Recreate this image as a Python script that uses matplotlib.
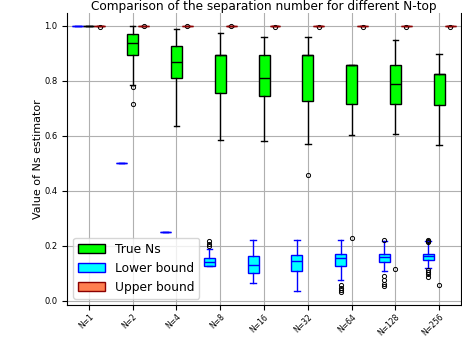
import matplotlib
matplotlib.use('Agg')
import matplotlib.pyplot as plt
from matplotlib.patches import Patch

labels = ['N=1', 'N=2', 'N=4', 'N=8', 'N=16', 'N=32', 'N=64', 'N=128', 'N=256']

# True Ns
true_lo = [1.0, 0.785, 0.634, 0.584, 0.580, 0.570, 0.601, 0.606, 0.566]
true_q1 = [1.0, 0.893, 0.810, 0.754, 0.744, 0.726, 0.717, 0.715, 0.712]
true_med = [1.0, 0.937, 0.868, 0.893, 0.810, 0.893, 0.859, 0.788, 0.825]
true_q3 = [1.0, 0.970, 0.925, 0.893, 0.893, 0.893, 0.859, 0.856, 0.825]
true_hi = [1.0, 1.0, 0.988, 0.973, 0.959, 0.959, 0.859, 0.948, 0.898]
true_fl = [[], [0.776, 0.716], [], [], [], [0.456], [0.228], [0.116], [0.058]]

# Lower bound
low_lo = [1.0, 0.5, 0.25, 0.127, 0.064, 0.035, 0.075, 0.107, 0.119]
low_q1 = [1.0, 0.5, 0.25, 0.128, 0.100, 0.108, 0.126, 0.140, 0.149]
low_med = [1.0, 0.5, 0.25, 0.140, 0.130, 0.145, 0.155, 0.158, 0.161]
low_q3 = [1.0, 0.5, 0.25, 0.155, 0.164, 0.166, 0.170, 0.170, 0.171]
low_hi = [1.0, 0.5, 0.25, 0.188, 0.220, 0.220, 0.220, 0.218, 0.218]
low_fl = [[], [], [], [0.200, 0.208, 0.216], [], [],
          [0.058, 0.048, 0.040, 0.032], [0.090, 0.075, 0.062, 0.052, 0.222],
          [0.113, 0.104, 0.096, 0.088, 0.215, 0.219, 0.222]]

# Upper bound
up_val = [1.0] * 9
up_fl = [[0.997], [0.998], [0.998], [0.998], [0.997], [0.996], [0.996], [0.996], [0.995]]


def stats(lo, q1, med, q3, hi, fl):
    return [dict(whislo=a, q1=b, med=c, q3=d, whishi=e, fliers=f)
            for a, b, c, d, e, f in zip(lo, q1, med, q3, hi, fl)]


fig = plt.figure(figsize=(4.62, 3.38), dpi=100)
ax = fig.add_axes([0.145, 0.098, 0.853, 0.864])

pos = list(range(1, 10))
w = 0.25

groups = [
    (stats(true_lo, true_q1, true_med, true_q3, true_hi, true_fl), 0.0, '#00ff00', 'black'),
    (stats(low_lo, low_q1, low_med, low_q3, low_hi, low_fl), -0.25, 'cyan', 'blue'),
    (stats(up_val, up_val, up_val, up_val, up_val, up_fl), 0.25, 'coral', 'darkred'),
]
for st, off, fc, ec in groups:
    ax.bxp(st, positions=[p + off for p in pos], widths=w, patch_artist=True,
           boxprops=dict(facecolor=fc, edgecolor=ec, linewidth=1.0),
           medianprops=dict(color=ec, linewidth=1.0),
           whiskerprops=dict(color=ec, linewidth=1.0),
           capprops=dict(color=ec, linewidth=1.0),
           flierprops=dict(marker='o', markersize=3, markerfacecolor='none',
                           markeredgecolor='black', markeredgewidth=0.7),
           manage_ticks=False)

ax.set_xlim(0.5, 9.5)
ax.set_ylim(-0.015, 1.047)
ax.set_xticks(pos)
ax.set_xticklabels(labels, rotation=45, ha='right', rotation_mode='anchor', fontsize=5.5)
ax.tick_params(axis='x', pad=2)
ax.set_yticks([0.0, 0.2, 0.4, 0.6, 0.8, 1.0])
ax.tick_params(axis='y', labelsize=6)
ax.grid(True, color='#b0b0b0')
ax.set_axisbelow(True)
ax.spines['top'].set_visible(False)

ax.set_title('Comparison of the separation number for different N-top', fontsize=8.7, pad=2)
ax.set_ylabel('Value of Ns estimator', fontsize=8, labelpad=1)

handles = [Patch(facecolor='#00ff00', edgecolor='black', label='True Ns'),
           Patch(facecolor='cyan', edgecolor='blue', label='Lower bound'),
           Patch(facecolor='coral', edgecolor='darkred', label='Upper bound')]
ax.legend(handles=handles, loc='lower left', fontsize=8.8, handlelength=2.2)

fig.savefig('out.png', dpi=100)
